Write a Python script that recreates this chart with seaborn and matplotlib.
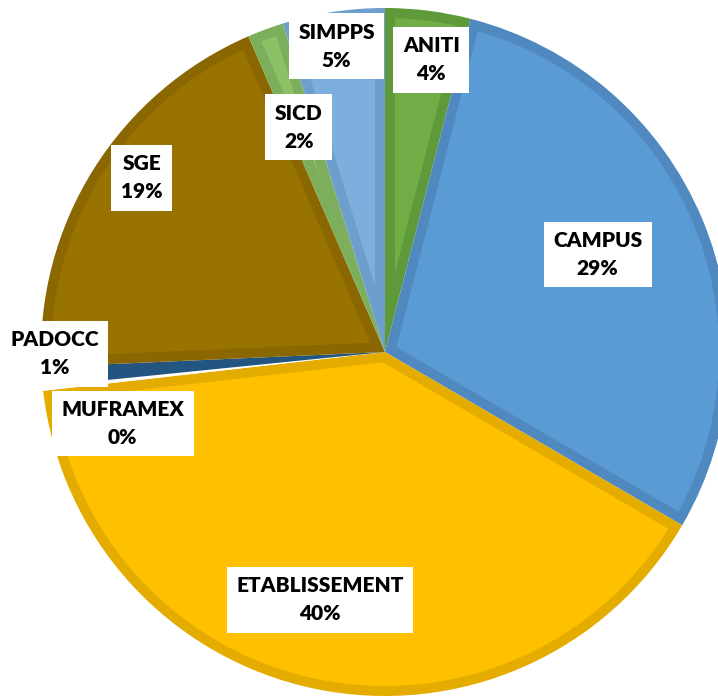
import matplotlib
matplotlib.use("Agg")
import matplotlib.pyplot as plt
from matplotlib.patches import Polygon
import seaborn as sns
import numpy as np

# slice shares (percent), clockwise from 12 o'clock
services = ["ANITI", "CAMPUS", "ETABLISSEMENT", "MUFRAMEX", "PADOCC", "SGE", "SICD", "SIMPPS"]
shares = [4.0, 29.4, 39.8, 0.2, 0.9, 19.2, 1.7, 4.8]

colors = ["#70AD47", "#5B9BD5", "#FFC000", "#FFFFFF", "#255E91", "#997300", "#8CC168", "#7CAFDD"]
edge_colors = ["#5F9A3A", "#4F89BF", "#E5AC00", "#FFFFFF", "#22557F", "#8A6700", "#7DAE5C", "#6E9ECB"]

# label placement (radius fraction, angle in degrees)
label_pos = [(0.86, 81), (0.68, 24.6), (0.745, -104.7), (0.79, -164.7),
             (0.96, 180.3), (0.87, 144.4), (0.70, 111), (0.90, 99)]

BEVEL = 0.029


def inset_wedge(w, d):
    # shrink a pie wedge by d on every side (flat bevel look)
    t1, t2 = np.radians(w.theta1), np.radians(w.theta2)
    r = w.r
    half = (t2 - t1) / 2
    if np.sin(half) * (r - d) <= d * 1.05:
        return None
    apex = d / np.sin(half)
    mid = (t1 + t2) / 2
    delta = np.arcsin(d / (r - d))
    ang = np.linspace(t1 + delta, t2 - delta, 80)
    cx, cy = w.center
    pts = [(cx + apex * np.cos(mid), cy + apex * np.sin(mid))]
    pts += [(cx + (r - d) * np.cos(a), cy + (r - d) * np.sin(a)) for a in ang]
    return pts


def main():
    sns.set_theme(style="white")
    plt.rcParams["font.family"] = ["Lato", "DejaVu Sans"]

    fig = plt.figure(figsize=(7.18, 6.98), dpi=100)
    ax = fig.add_axes([0, 0, 1, 1])
    wedges, _ = ax.pie(shares, colors=edge_colors, startangle=90, counterclock=False,
                       radius=1.0, wedgeprops=dict(linewidth=0))
    for w, c in zip(wedges, colors):
        pts = inset_wedge(w, BEVEL)
        if pts is not None:
            ax.add_patch(Polygon(pts, closed=True, facecolor=c, edgecolor="none"))

    for name, v, (r, a) in zip(services, shares, label_pos):
        x = r * np.cos(np.radians(a))
        y = r * np.sin(np.radians(a))
        ax.text(x, y, f"{name}\n{round(v):.0f}%", ha="center", va="center",
                fontsize=15, fontweight="heavy", color="black", linespacing=1.55,
                bbox=dict(boxstyle="square,pad=0.45", facecolor="white", edgecolor="none"))

    ax.set_xlim(-385 / 344, (718 - 385) / 344)
    ax.set_ylim(-(698 - 352) / 344, 352 / 344)
    ax.set_aspect("auto")
    ax.axis("off")
    fig.savefig("out.png", dpi=100, facecolor="white")
    plt.close(fig)


if __name__ == "__main__":
    main()
